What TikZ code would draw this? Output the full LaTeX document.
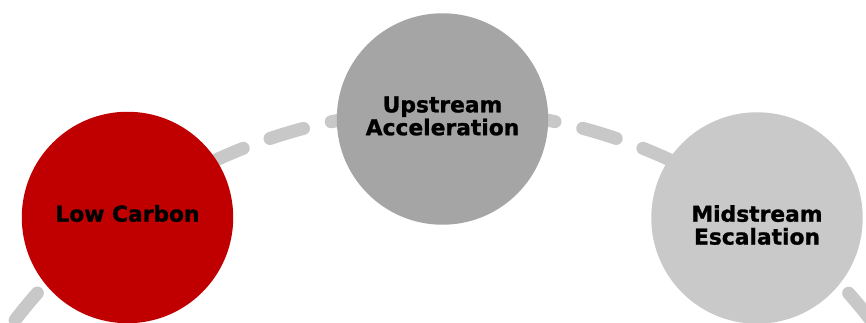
\documentclass[tikz,border=0pt]{standalone}
\usepackage{fontspec}
\setmainfont{DejaVu Sans}
\newfontfamily\stagefont{DejaVu Sans Bold}[FakeBold=1.2]
\usetikzlibrary{positioning}
\definecolor{lowred}{HTML}{C00000}
\definecolor{upgray}{HTML}{A5A5A5}
\definecolor{midgray}{HTML}{C9C9C9}
\definecolor{dashgray}{HTML}{C8C8C8}
\begin{document}
\begin{tikzpicture}[x=0.02cm,y=0.02cm,
  stage/.style={circle,inner sep=0pt,minimum size=4.23cm},
  stagetext/.style={font=\fontsize{12.4}{13}\stagefont,align=center,text=black},
  dashline/.style={line width=0.26cm,line cap=round,draw=dashgray,dash pattern=on 0.7cm off 0.57cm}]
  \useasboundingbox (0,0) rectangle (866,323);
  \clip (0,0) rectangle (866,323);
  \coordinate (hub) at (443,-328);
  \draw[dashline] (hub) ++(149:10.82cm) arc[start angle=149,end angle=31,radius=10.82cm];
  \node[stage,fill=lowred](low) at (127.5,105.5){};
  \node[stage,fill=upgray](up) at (442.5,204){};
  \node[stage,fill=midgray](mid) at (757,105){};
  \node[stagetext](lowtext) at ([yshift=0.08cm]low.center){Low Carbon};
  \node[stagetext](uptext) at ([yshift=0.06cm]up.center){Upstream\\Acceleration};
  \node[stagetext](midtext) at ([yshift=-0.14cm]mid.center){Midstream\\Escalation};
\end{tikzpicture}
\end{document}
